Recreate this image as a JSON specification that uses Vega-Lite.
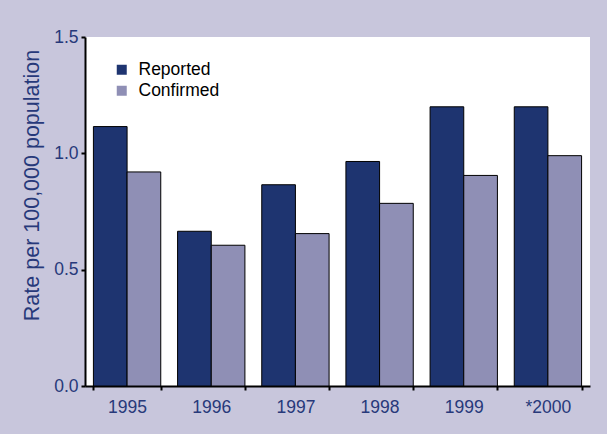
{
  "$schema": "https://vega.github.io/schema/vega-lite/v6.json",
  "width": 505,
  "height": 349,
  "autosize": "none",
  "padding": {"left": 85, "top": 37, "right": 17, "bottom": 48},
  "background": "#C8C6DC",
  "config": {
    "view": {"fill": "white", "stroke": null},
    "font": "Liberation Sans"
  },
  "data": {
    "values": [
      {"year": "1995", "type": "Reported", "rate": 1.115},
      {"year": "1995", "type": "Confirmed", "rate": 0.92},
      {"year": "1996", "type": "Reported", "rate": 0.665},
      {"year": "1996", "type": "Confirmed", "rate": 0.605},
      {"year": "1997", "type": "Reported", "rate": 0.865},
      {"year": "1997", "type": "Confirmed", "rate": 0.655},
      {"year": "1998", "type": "Reported", "rate": 0.965},
      {"year": "1998", "type": "Confirmed", "rate": 0.785},
      {"year": "1999", "type": "Reported", "rate": 1.2},
      {"year": "1999", "type": "Confirmed", "rate": 0.905},
      {"year": "*2000", "type": "Reported", "rate": 1.2},
      {"year": "*2000", "type": "Confirmed", "rate": 0.99}
    ]
  },
  "mark": {"type": "bar", "stroke": "black", "strokeWidth": 1},
  "encoding": {
    "x": {
      "field": "year",
      "type": "nominal",
      "sort": null,
      "scale": {"paddingInner": 0.2, "paddingOuter": 0.1},
      "axis": {
        "title": null,
        "labelAngle": 0,
        "labelFont": "Liberation Sans",
        "labelFontSize": 17.5,
        "labelColor": "#27397A",
        "labelPadding": 8,
        "domainColor": "black",
        "domainWidth": 2,
        "tickColor": "black",
        "tickWidth": 2,
        "tickSize": 4,
        "tickBand": "extent"
      }
    },
    "xOffset": {"field": "type", "sort": ["Reported", "Confirmed"]},
    "y": {
      "field": "rate",
      "type": "quantitative",
      "scale": {"domain": [0, 1.5], "nice": false},
      "axis": {
        "title": "Rate per 100,000 population",
        "titleFont": "Liberation Sans",
        "titleFontSize": 21.5,
        "titleFontWeight": "normal",
        "titleColor": "#27397A",
        "titlePadding": 10,
        "titleY": 148,
        "values": [0, 0.5, 1, 1.5],
        "format": ".1f",
        "labelFont": "Liberation Sans",
        "labelFontSize": 17.5,
        "labelColor": "#27397A",
        "labelPadding": 3,
        "grid": false,
        "domainColor": "black",
        "domainWidth": 2,
        "tickColor": "black",
        "tickWidth": 2,
        "tickSize": 4
      }
    },
    "color": {
      "field": "type",
      "type": "nominal",
      "sort": ["Reported", "Confirmed"],
      "scale": {"domain": ["Reported", "Confirmed"], "range": ["#1E3470", "#8F8FB5"]},
      "legend": {
        "title": null,
        "orient": "none",
        "legendX": 28,
        "legendY": 24,
        "symbolType": "square",
        "symbolSize": 100,
        "symbolStrokeWidth": 0,
        "labelFont": "Liberation Sans",
        "labelFontSize": 17.5,
        "labelColor": "black",
        "labelOffset": 8,
        "rowPadding": 2
      }
    }
  }
}
